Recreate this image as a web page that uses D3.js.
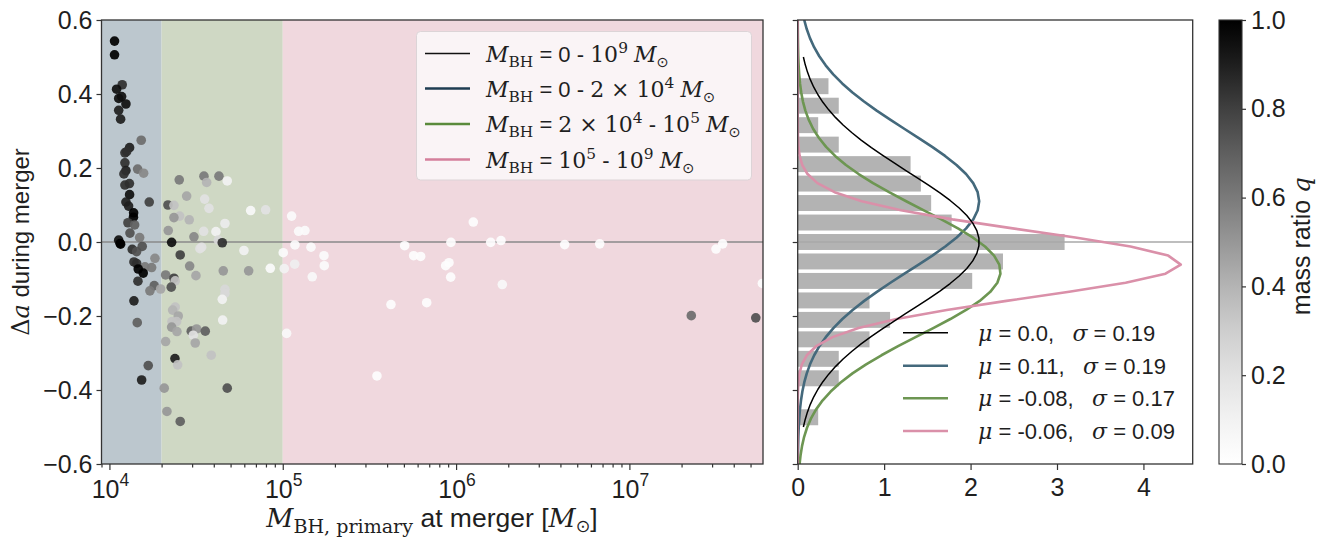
<!DOCTYPE html>
<html><head><meta charset="utf-8">
<script src="https://cdn.jsdelivr.net/npm/d3@7"></script>
<style>
body{margin:0;background:#fff;}
svg text{font-family:"Liberation Sans",Arial,sans-serif;fill:#1f1f1f;white-space:pre;}
</style></head><body>
<svg id="c" width="1317" height="539"></svg>
<script>
// ---------------- data ----------------
const massBH = [
 10700,10700,11850,11000,11760,11310,12450,11310,11600,15255,
 13070,12285,12565,12285,14545,15750,12450,12125,13040,12285,
 13070,12450,16970,12900,13790,13755,12790,13975,13135,14940,
 11310,11526,11600,15460,13540,14355,13850,14355,18305,16030,
 17520,14660,15670,14605,18135,17125,19740,13850,14470,16745,
 15340,
 25280,35100,42840,36390,47830,27900,21760,23560,35430,37520,
 25410,23560,28880,46400,65290,79660,21845,34970,41170,30735,
 22850,42450,44770,33290,34050,59720,25610,29030,31560,45370,
 63570,84730,21100,23560,23975,22730,46400,46400,44770,23975,
 23160,24945,22940,24425,22850,24520,45010,29650,31855,30450,
 35720,31270,21100,38680,23880,24750,20710,47830,21470,25610,
 100670,117600,102000,117200,105300,112500,123500,134300,145500,172900,
 173600,148000,505000,1257000,569300,624800,934000,871000,910000,931000,
 1584000,1816000,1848000,421100,676900,349600,4234000,6741000,31600000,34540000,
 22760000,53600000,58500000
];
const deltaA = [
 0.543,0.506,0.425,0.413,0.393,0.388,0.373,0.356,0.332,0.275,
 0.255,0.241,0.244,0.214,0.197,0.186,0.193,0.184,0.158,0.154,
 0.128,0.108,0.108,0.097,0.079,0.067,0.052,0.046,0.024,0.012,
 0.005,-0.004,-0.006,-0.012,-0.020,-0.026,-0.054,-0.058,-0.044,-0.067,
 -0.069,-0.073,-0.084,-0.106,-0.118,-0.132,-0.127,-0.159,-0.218,-0.334,
 -0.373,
 0.168,0.178,0.178,0.161,0.165,0.124,0.100,0.099,0.116,0.091,
 0.070,0.066,0.060,0.050,0.085,0.087,0.031,0.029,0.028,0.014,
 -0.001,0.005,-0.002,-0.018,-0.014,-0.023,-0.035,-0.065,-0.091,-0.078,
 -0.078,-0.071,-0.089,-0.098,-0.105,-0.122,-0.128,-0.139,-0.155,-0.176,
 -0.184,-0.200,-0.215,-0.215,-0.230,-0.242,-0.211,-0.241,-0.235,-0.252,
 -0.241,-0.273,-0.269,-0.306,-0.315,-0.332,-0.395,-0.395,-0.458,-0.485,
 -0.029,-0.008,-0.072,-0.060,-0.247,0.070,0.029,0.031,-0.014,-0.037,
 -0.064,-0.094,-0.010,0.054,-0.037,-0.039,-0.001,-0.064,-0.056,-0.095,
 -0.001,0.004,-0.115,-0.169,-0.164,-0.362,-0.007,-0.005,-0.019,-0.005,
 -0.199,-0.205,-0.112
];
const massRatio = [
 1.0,1.0,0.85,0.95,0.95,0.95,0.95,0.9,0.9,0.65,
 0.9,0.85,0.85,0.85,0.65,0.55,0.9,0.85,0.85,0.85,
 0.95,0.9,0.8,0.9,1.0,1.0,0.8,0.7,0.75,0.6,
 0.95,1.0,1.0,0.75,0.85,0.75,0.85,0.85,0.55,0.6,
 0.6,1.0,1.0,0.85,0.7,0.6,0.45,0.9,0.7,0.75,
 0.9,
 0.6,0.6,0.6,0.4,0.1,0.45,0.75,0.35,0.2,0.2,
 0.35,0.5,0.4,0.15,0.05,0.2,0.5,0.2,0.1,0.55,
 0.95,0.25,0.85,0.2,0.2,0.1,0.8,0.55,0.45,0.5,
 0.5,0.03,0.6,0.8,0.35,0.75,0.25,0.25,0.1,0.35,
 0.4,0.45,0.35,0.35,0.5,0.45,0.1,0.7,0.5,0.2,
 0.7,0.45,0.45,0.35,0.9,0.35,0.5,0.75,0.5,0.7,
 0.03,0.03,0.1,0.12,0.05,0.03,0.03,0.03,0.03,0.03,
 0.03,0.05,0.02,0.02,0.02,0.02,0.02,0.02,0.02,0.02,
 0.02,0.02,0.05,0.02,0.02,0.02,0.02,0.02,0.02,0.02,
 0.65,0.75,0.02
];
// mass bins shaded in the scatter panel
const regionEdges = [9000, 2e4, 1e5, 5.9e7];
// histogram of delta a (density), bins bottom -> top
const histEdges = [-0.5,-0.4474,-0.3947,-0.3421,-0.2895,-0.2368,-0.1842,-0.1316,-0.0789,-0.0263,
                   0.0263,0.0789,0.1316,0.1842,0.2368,0.2895,0.3421,0.3947,0.4474,0.5];
const histDensity = [0.237,0,0.475,0.475,0.831,1.069,0.831,2.019,2.375,3.088,
                     1.781,1.544,1.425,1.306,0.475,0.237,0.475,0.356,0];
// gaussian fits
const fitMu = [0.0, 0.11, -0.08, -0.06];
const fitSigma = [0.19, 0.19, 0.17, 0.09];
const fitRange = [[-0.5,0.5],[-0.6,0.6],[-0.6,0.6],[-0.6,0.6]];
const fitMuLabel = ["0.0","0.11","-0.08","-0.06"];
const fitSigmaLabel = ["0.19","0.19","0.17","0.09"];
const xTicksMajor = [1e4,1e5,1e6,1e7];
const xTickExp = ["4","5","6","7"];
const yTicks = [-0.6,-0.4,-0.2,0.0,0.2,0.4,0.6];
const histTicks = [0,1,2,3,4];
const cbTicks = [0.0,0.2,0.4,0.6,0.8,1.0];

// ---------------- styles ----------------
const regionFill = ["#bcc7ce","#cfd8c4","#f0d8de"];
const curveColors = ["#000000","#44697c","#6d9652","#da90a9"];
const legendLineColors = ["#111111","#1e3d52","#5a8a3b","#d47f9b"];
const SERIF = "'DejaVu Serif',serif";
const SANS = "'Liberation Sans',Arial,sans-serif";
const TICKFONT = 25;

const svg = d3.select("#c");
const L = {x0:101.5, x1:763, y0:20, y1:464};
const R = {x0:797.7, x1:1192.7};
const CB = {x0:1219, x1:1242};

const x = d3.scaleLog().domain([9000, 5.9e7]).range([L.x0, L.x1]);
const y = d3.scaleLinear().domain([-0.6, 0.6]).range([L.y1, L.y0]);
const xh = d3.scaleLinear().domain([0, 4.57]).range([R.x0, R.x1]);
const color = d3.scaleSequential(d3.interpolateGreys).domain([0,1]);

function rich(g, px, py, parts, size, anchor){
  const t = g.append("text").attr("x",px).attr("y",py)
     .attr("text-anchor",anchor||"start").style("font-size",size+"px");
  let cur = 0;
  parts.forEach(p=>{
    const s = t.append("tspan").text(p.t);
    const sh = p.sh||0;
    s.attr("dy", sh-cur); cur = sh;
    s.style("font-family", p.f==="s" ? SERIF : (p.f==="sym" ? "'DejaVu Sans',sans-serif" : SANS));
    if(p.i) s.style("font-style","italic");
    if(p.z) s.style("font-size",(size*p.z)+"px");
  });
  return t;
}

// ---------------- left panel ----------------
svg.append("defs").append("clipPath").attr("id","lc")
  .append("rect").attr("x",L.x0).attr("y",L.y0).attr("width",L.x1-L.x0).attr("height",L.y1-L.y0);
const gl = svg.append("g");
for(let i=0;i<3;i++){
  gl.append("rect").attr("x",x(regionEdges[i])).attr("y",L.y0)
    .attr("width",x(regionEdges[i+1])-x(regionEdges[i])).attr("height",L.y1-L.y0)
    .attr("fill",regionFill[i]);
}
gl.append("line").attr("x1",L.x0).attr("x2",L.x1).attr("y1",y(0)).attr("y2",y(0))
  .attr("stroke","#8a8a8a").attr("stroke-width",1.3);
const pts = d3.range(massBH.length);
gl.append("g").attr("clip-path","url(#lc)").selectAll("circle").data(pts).join("circle")
  .attr("cx",i=>x(massBH[i])).attr("cy",i=>y(deltaA[i])).attr("r",4.8)
  .attr("fill",i=>color(massRatio[i])).attr("fill-opacity",0.92);

// legend (left)
const lg = svg.append("g");
lg.append("rect").attr("x",416.5).attr("y",31.5).attr("width",335).attr("height",148.5)
  .attr("rx",4).attr("fill","#faf4f6").attr("stroke","#dcd4d7").attr("stroke-width",1);
const MBH = [{t:"M",f:"s",i:1},{t:"BH",f:"s",z:0.7,sh:5}];
const MSUN = [{t:" ",sh:0},{t:"M",f:"s",i:1},{t:"\u2299",f:"sym",z:0.66,sh:5}];
const legendParts = [
  [...MBH,{t:" = 0 - ",sh:0},{t:"10",f:"s"},{t:"9",f:"s",z:0.7,sh:-9},...MSUN],
  [...MBH,{t:" = 0 - ",sh:0},{t:"2 \u00d7 10",f:"s"},{t:"4",f:"s",z:0.7,sh:-9},...MSUN],
  [...MBH,{t:" = ",sh:0},{t:"2 \u00d7 10",f:"s"},{t:"4",f:"s",z:0.7,sh:-9},{t:" - ",sh:0},{t:"10",f:"s"},{t:"5",f:"s",z:0.7,sh:-9},...MSUN],
  [...MBH,{t:" = ",sh:0},{t:"10",f:"s"},{t:"5",f:"s",z:0.7,sh:-9},{t:" - ",sh:0},{t:"10",f:"s"},{t:"9",f:"s",z:0.7,sh:-9},...MSUN]
];
const legendRowY = [53.5,88.5,124,159.5];
legendParts.forEach((parts,i)=>{
  lg.append("line").attr("x1",425).attr("x2",470).attr("y1",legendRowY[i]).attr("y2",legendRowY[i])
    .attr("stroke",legendLineColors[i]).attr("stroke-width",i===0?1.4:2.6);
  rich(lg,486,legendRowY[i]+8,parts,22);
});

// axes left
svg.append("g").attr("transform",`translate(${L.x0},0)`)
  .call(d3.axisLeft(y).tickValues(yTicks).tickFormat(d3.format(".1f")).tickSize(5).tickPadding(4));
svg.append("g").attr("transform",`translate(0,${L.y1})`)
  .call(d3.axisBottom(x).tickValues(xTicksMajor).tickFormat("").tickSize(6));
const minor = [];
[1e3,1e4,1e5,1e6,1e7].forEach(b=>{for(let k=2;k<10;k++){const v=k*b; if(v>=9000&&v<=5.9e7) minor.push(v);}});
svg.append("g").attr("transform",`translate(0,${L.y1})`)
  .call(d3.axisBottom(x).tickValues(minor).tickFormat("").tickSize(3.5));
xTicksMajor.forEach((v,i)=>{
  rich(svg,x(v)+1,498,[{t:"10"},{t:xTickExp[i],z:0.7,sh:-12}],TICKFONT,"middle");
});

// ---------------- right panel ----------------
const gr = svg.append("g");
const bh = (y(histEdges[0])-y(histEdges[1]));
gr.selectAll("rect.bar").data(d3.range(histDensity.length)).join("rect").attr("class","bar")
  .attr("x",xh(0)).attr("width",i=>xh(histDensity[i])-xh(0))
  .attr("y",i=>y(histEdges[i+1])+bh*0.09).attr("height",bh*0.82)
  .attr("fill","#b3b3b3");
gr.append("line").attr("x1",R.x0).attr("x2",R.x1).attr("y1",y(0)).attr("y2",y(0))
  .attr("stroke","#a8a8a8").attr("stroke-width",1.3);
svg.append("defs").append("clipPath").attr("id","rc")
  .append("rect").attr("x",R.x0).attr("y",L.y0).attr("width",R.x1-R.x0).attr("height",L.y1-L.y0);
const gc = gr.append("g").attr("clip-path","url(#rc)");
const line = d3.line().x(d=>xh(d[0])).y(d=>y(d[1]));
[1,2,3,0].forEach(k=>{
  const n=50, a=fitRange[k][0], b=fitRange[k][1];
  const cp = d3.range(n).map(j=>{
    const v = a + (b-a)*j/(n-1);
    const dens = Math.exp(-0.5*Math.pow((v-fitMu[k])/fitSigma[k],2))/(fitSigma[k]*Math.sqrt(2*Math.PI));
    return [dens, v];
  });
  gc.append("path").attr("d",line(cp)).attr("fill","none")
    .attr("stroke",curveColors[k]).attr("stroke-width",k===0?1.5:2.6).attr("stroke-linejoin","round");
});
// legend right
const legR = [332.7,365.7,398.3,431];
fitMu.forEach((m,i)=>{
  gr.append("line").attr("x1",903).attr("x2",948).attr("y1",legR[i]).attr("y2",legR[i])
    .attr("stroke",curveColors[i]).attr("stroke-width",i===0?1.5:2.6);
  rich(gr,978,legR[i]+8,[{t:"\u03bc",f:"s",i:1},{t:" = "+fitMuLabel[i]+",   "},{t:"\u03c3",f:"s",i:1},{t:" = "+fitSigmaLabel[i]}],22);
});
svg.append("g").attr("transform",`translate(${R.x0},0)`)
  .call(d3.axisLeft(y).tickValues(yTicks).tickFormat("").tickSize(5));
svg.append("g").attr("transform",`translate(0,${L.y1})`)
  .call(d3.axisBottom(xh).tickValues(histTicks).tickFormat(d3.format("d")).tickSize(6).tickPadding(8));

// ---------------- colorbar ----------------
const grad = svg.append("defs").append("linearGradient").attr("id","cbg")
  .attr("x1",0).attr("y1",1).attr("x2",0).attr("y2",0);
d3.range(11).forEach(j=>grad.append("stop").attr("offset",j/10).attr("stop-color",color(j/10)));
const cy = d3.scaleLinear().domain([0,1]).range([L.y1,L.y0]);
svg.append("rect").attr("x",CB.x0).attr("y",L.y0).attr("width",CB.x1-CB.x0).attr("height",L.y1-L.y0)
  .attr("fill","url(#cbg)").attr("stroke","#333").attr("stroke-width",1.1);
svg.append("g").attr("transform",`translate(${CB.x1},0)`)
  .call(d3.axisRight(cy).tickValues(cbTicks).tickFormat(d3.format(".1f")).tickSize(4).tickPadding(5));

// frames
[[L.x0,L.x1],[R.x0,R.x1]].forEach(([a,b])=>{
  svg.append("rect").attr("x",a).attr("y",L.y0).attr("width",b-a).attr("height",L.y1-L.y0)
    .attr("fill","none").attr("stroke","#333").attr("stroke-width",1.3);
});
// axis styling
svg.selectAll(".domain").remove();
svg.selectAll(".tick line").attr("stroke","#333").attr("stroke-width",1.2);
svg.selectAll(".tick text").style("font-size",TICKFONT+"px").style("font-family",SANS).attr("fill","#1f1f1f");

// axis labels
const yl = rich(svg,0,0,[{t:"\u0394",f:"s"},{t:"a",f:"s",i:1},{t:" during merger"}],24,"middle");
yl.attr("transform","translate(29,242) rotate(-90)");
rich(svg,432,527,[{t:"M",f:"s",i:1},{t:"BH, primary",f:"s",z:0.72,sh:6},{t:" at merger [",sh:0},{t:"M",f:"s",i:1},{t:"\u2299",f:"sym",z:0.66,sh:5},{t:"]",sh:0}],26.5,"middle");
const cl = rich(svg,0,0,[{t:"mass ratio "},{t:"q",f:"s",i:1}],25,"middle");
cl.attr("transform","translate(1310,246) rotate(-90)");
</script>
</body></html>
